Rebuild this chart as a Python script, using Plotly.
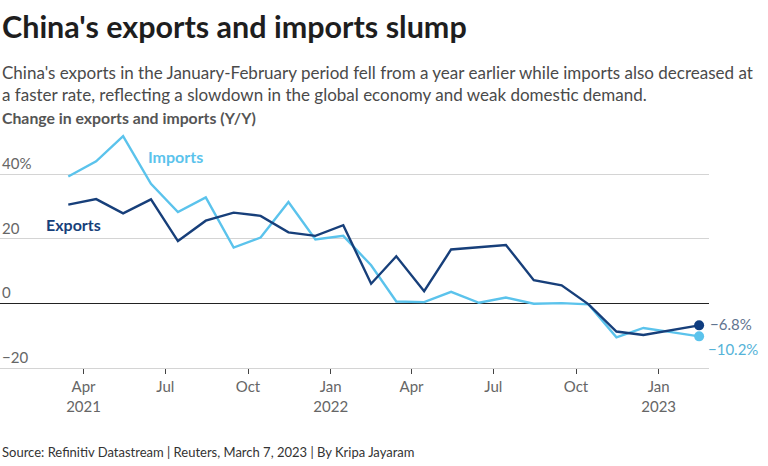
import plotly.graph_objects as go

# ---- data ----
months = ["2021-03-15", "2021-04-15", "2021-05-15", "2021-06-15", "2021-07-15", "2021-08-15",
          "2021-09-15", "2021-10-15", "2021-11-15", "2021-12-15", "2022-01-15", "2022-02-15",
          "2022-03-15", "2022-04-15", "2022-05-15", "2022-06-15", "2022-07-15", "2022-08-15",
          "2022-09-15", "2022-10-15", "2022-11-15", "2022-12-15", "2023-01-15", "2023-02-15"]
exports = [30.6, 32.3, 27.9, 32.2, 19.3, 25.6, 28.1, 27.1, 22.0, 20.9, 24.2, 6.1,
           14.6, 3.8, 16.7, 17.5, 18.1, 7.2, 5.6, -0.3, -8.7, -9.8, -8.2, -6.8]
imports = [39.3, 44.0, 51.8, 37.0, 28.3, 32.8, 17.3, 20.4, 31.4, 19.8, 20.9, 11.8,
           0.6, 0.4, 3.6, 0.2, 1.8, -0.1, 0.1, -0.3, -10.5, -7.6, -8.9, -10.2]
end_labels = ["−6.8%", "−10.2%"]
ytick_vals = [40, 20, 0, -20]
ytick_text = ["40%", "20", "0", "−20"]
xtick_vals = ["2021-04-01", "2021-07-01", "2021-10-01", "2022-01-01",
              "2022-04-01", "2022-07-01", "2022-10-01", "2023-01-01"]
xtick_text = ["Apr<br>2021", "Jul", "Oct", "Jan<br>2022", "Apr", "Jul", "Oct", "Jan<br>2023"]

EXP_C = "#173f7a"
IMP_C = "#5bc3ec"
FONT = "Source Sans Pro, Lato, sans-serif"

W, H = 768, 466
T, B = 130, 98
PLOT_H = H - T - B


def py(Y):
    """figure pixel Y -> paper coordinate"""
    return (H - B - Y) / PLOT_H


fig = go.Figure()
fig.add_trace(go.Scatter(x=months, y=imports, mode="lines",
                         line=dict(color=IMP_C, width=2.4), hoverinfo="skip"))
fig.add_trace(go.Scatter(x=months, y=exports, mode="lines",
                         line=dict(color=EXP_C, width=2.4), hoverinfo="skip"))
fig.add_trace(go.Scatter(x=[months[-1]], y=[imports[-1]], mode="markers",
                         marker=dict(color=IMP_C, size=10), hoverinfo="skip"))
fig.add_trace(go.Scatter(x=[months[-1]], y=[exports[-1]], mode="markers",
                         marker=dict(color="#0f3d80", size=10), hoverinfo="skip"))

ann = []
# title, subtitle, axis title, source
ann.append(dict(text="<b>China's exports and imports slump</b>", x=0, y=py(46), xref="paper", yref="paper",
                xanchor="left", yanchor="bottom", showarrow=False,
                font=dict(family=FONT, size=30.5, color="#1e1e1e")))
ann.append(dict(text="China's exports in the January-February period fell from a year earlier while imports also decreased at<br>"
                     "a faster rate, reflecting a slowdown in the global economy and weak domestic demand.",
                x=0, y=py(107), xref="paper", yref="paper", xanchor="left", yanchor="bottom",
                showarrow=False, align="left",
                font=dict(family=FONT, size=17, color="#4a4a4a")))
ann.append(dict(text="<b>Change in exports and imports (Y/Y)</b>", x=0, y=py(129), xref="paper", yref="paper",
                xanchor="left", yanchor="bottom", showarrow=False,
                font=dict(family=FONT, size=15.8, color="#555555")))
ann.append(dict(text="Source: Refinitiv Datastream | Reuters, March 7, 2023 | By Kripa Jayaram",
                x=0, y=py(462), xref="paper", yref="paper", xanchor="left", yanchor="bottom",
                showarrow=False, font=dict(family=FONT, size=13, color="#333333")))
# y tick labels above gridlines
for v, t in zip(ytick_vals, ytick_text):
    ann.append(dict(text=t, x=0, y=v, xref="paper", yref="y", xanchor="left", yanchor="bottom",
                    yshift=0, showarrow=False, font=dict(family=FONT, size=15, color="#666666")))
# series labels
ann.append(dict(text="<b>Imports</b>", x="2021-07-12", y=45.5, xref="x", yref="y", showarrow=False,
                font=dict(family=FONT, size=16, color=IMP_C)))
ann.append(dict(text="<b>Exports</b>", x="2021-03-21", y=24.3, xref="x", yref="y", showarrow=False,
                font=dict(family=FONT, size=16, color=EXP_C)))
# end labels
ann.append(dict(text=end_labels[0], x=months[-1], y=exports[-1], xref="x", yref="y", showarrow=False,
                xanchor="left", xshift=9, yshift=1, font=dict(family=FONT, size=15, color="#5f7490")))
ann.append(dict(text=end_labels[1], x=months[-1], y=imports[-1], xref="x", yref="y", showarrow=False,
                xanchor="left", xshift=7, yshift=-13, font=dict(family=FONT, size=15, color="#55b3d8")))

fig.update_layout(
    width=W, height=H, autosize=False,
    margin=dict(l=0, r=59, t=T, b=B, pad=0),
    paper_bgcolor="white", plot_bgcolor="white",
    showlegend=False,
    annotations=ann,
    font=dict(family=FONT),
)
fig.update_xaxes(type="date", range=["2020-12-29", "2023-02-26"],
                 tickmode="array", tickvals=xtick_vals, ticktext=xtick_text,
                 ticks="outside", ticklen=5, tickwidth=1.2, tickcolor="#444444",
                 showgrid=False, showline=True, linecolor="#d4d4d4", linewidth=1.2,
                 zeroline=False,
                 tickfont=dict(family=FONT, size=15, color="#666666"))
fig.update_yaxes(range=[-20, -20 + PLOT_H / 3.23], tickmode="array", tickvals=ytick_vals,
                 showticklabels=False, showgrid=True, gridcolor="#d4d4d4", gridwidth=1.2,
                 zeroline=True, zerolinecolor="#222222", zerolinewidth=1.4,
                 showline=False)

fig.write_html("out.html", config={"displayModeBar": False},
               post_script="document.body.style.margin='0';")
